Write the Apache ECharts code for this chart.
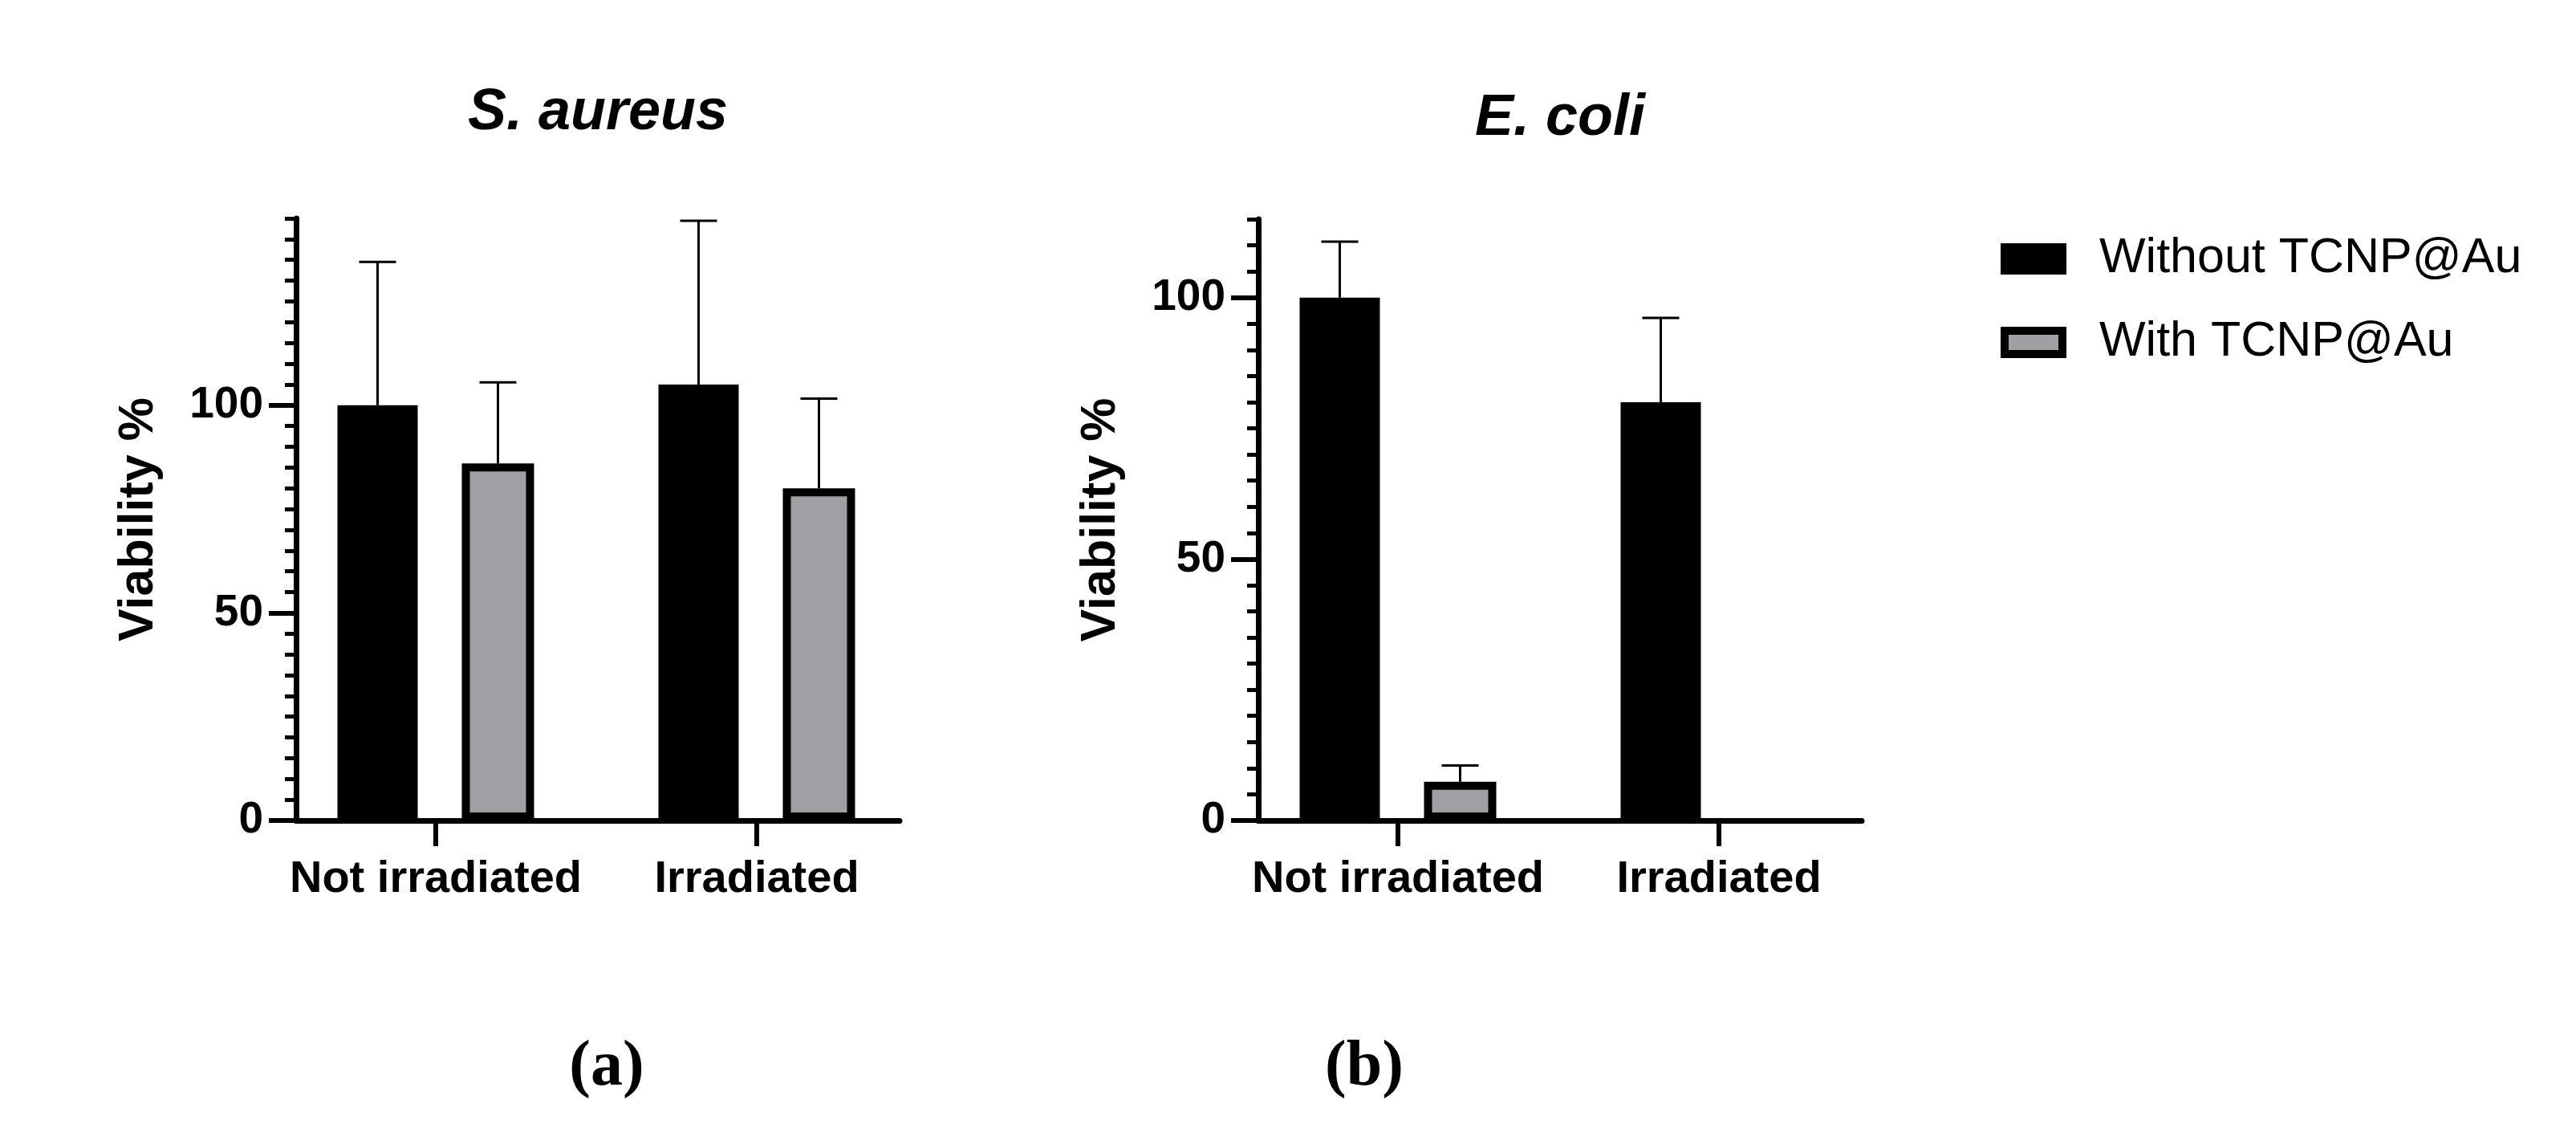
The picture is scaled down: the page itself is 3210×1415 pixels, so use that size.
<!DOCTYPE html>
<html>
<head>
<meta charset="utf-8">
<script src="https://cdn.jsdelivr.net/npm/echarts@6/dist/echarts.min.js"></script>
<style>
  html, body { margin: 0; padding: 0; background: #fff; }
  #chart { width: 3210px; height: 1415px; }
</style>
</head>
<body>
<div id="chart"></div>
<script>
// ---------- data ----------
const categories = ['Not irradiated', 'Irradiated'];
const seriesNames = ['Without TCNP@Au', 'With TCNP@Au'];

const saureusWithout   = [100, 105];
const saureusWithoutSD = [34.5, 39.4];
const saureusWith      = [86, 80];
const saureusWithSD    = [19.5, 21.6];

const ecoliWithout   = [100, 80];
const ecoliWithoutSD = [10.7, 16.1];
const ecoliWith      = [7.4, 0];
const ecoliWithSD    = [3.1, 0];

const saureusMax = 145;
const ecoliMax = 115;
const yTickStep = 5;
const yMajorTicks = [0, 50, 100];

const panelTitles = ['S. aureus', 'E. coli'];
const panelLetters = ['(a)', '(b)'];
const yAxisTitle = 'Viability %';

// ---------- styling constants ----------
const FONT = 'Liberation Sans, Arial, sans-serif';
const GRAY = '#a0a0a4';
const BLACK_W = 100, GRAY_W = 90, GAP = 0.55, BORDER = 10;
const widthSum = BLACK_W * (1 + GAP) + GRAY_W;
const blackOffset = -widthSum / 2 + BLACK_W / 2;
const grayOffset = -widthSum / 2 + BLACK_W * (1 + GAP) + GRAY_W / 2;
const CAP_HALF = 23;

function errData(vals, sds) {
  return vals.map((v, i) => [i, v, sds[i]]);
}
function errRenderer(offset) {
  return function (params, api) {
    const ci = api.value(0), v = api.value(1), e = api.value(2);
    if (!e) return null;
    const base = api.coord([ci, v]);
    const top = api.coord([ci, v + e]);
    const x = base[0] + offset;
    const st = { stroke: '#000', lineWidth: 3 };
    return {
      type: 'group',
      children: [
        { type: 'line', shape: { x1: x, y1: base[1], x2: x, y2: top[1] }, style: st },
        { type: 'line', shape: { x1: x - CAP_HALF, y1: top[1], x2: x + CAP_HALF, y2: top[1] }, style: st }
      ]
    };
  };
}
function grayData(vals) {
  return vals.map(v => v === 0 ? { value: v, itemStyle: { borderWidth: 0 } } : v);
}

// panel geometry
const panels = [
  { axisLeft: 369, barLeft: 343, top: 272, height: 750, max: saureusMax,
    without: saureusWithout, withoutSD: saureusWithoutSD, withv: saureusWith, withSD: saureusWithSD },
  { axisLeft: 1568, barLeft: 1542, top: 273, height: 749, max: ecoliMax,
    without: ecoliWithout, withoutSD: ecoliWithoutSD, withv: ecoliWith, withSD: ecoliWithSD }
];

const grid = [], xAxis = [], yAxis = [], series = [];
panels.forEach((p, k) => {
  const gP = grid.length;
  grid.push({ left: p.axisLeft, top: p.top, width: 752, height: p.height });
  const gB = grid.length;
  grid.push({ left: p.barLeft, top: p.top, width: 800, height: p.height });

  // visible x axis line
  xAxis.push({
    type: 'category', gridIndex: gP, data: categories, position: 'bottom',
    axisLine: { show: true, lineStyle: { color: '#000', width: 7 } },
    axisTick: { show: false }, axisLabel: { show: false }, splitLine: { show: false }
  });
  // bar x axis (ticks + labels)
  const xB = xAxis.length;
  xAxis.push({
    type: 'category', gridIndex: gB, data: categories, position: 'bottom',
    axisLine: { show: false },
    axisTick: { show: true, alignWithLabel: true, length: 32, lineStyle: { color: '#000', width: 6 } },
    axisLabel: { show: true, interval: 0, margin: 46, fontFamily: FONT, fontWeight: 'bold', fontSize: 56, lineHeight: 56, color: '#000' },
    splitLine: { show: false }
  });

  // minor ticks + labels + name
  yAxis.push({
    type: 'value', gridIndex: gP, position: 'left', min: 0, max: p.max, interval: yTickStep,
    axisLine: { show: true, lineStyle: { color: '#000', width: 7 } },
    axisTick: { show: true, length: 14, lineStyle: { color: '#000', width: 5 } },
    axisLabel: { show: true, customValues: yMajorTicks, margin: 41, fontFamily: FONT, fontWeight: 'bold', fontSize: 55, color: '#000' },
    splitLine: { show: false },
    name: yAxisTitle, nameLocation: 'middle', nameRotate: 90, nameGap: 165,
    nameTextStyle: { fontFamily: FONT, fontWeight: 'bold', fontSize: 61, lineHeight: 61, color: '#000' }
  });
  // major ticks
  yAxis.push({
    type: 'value', gridIndex: gP, position: 'left', offset: 0, min: 0, max: p.max, interval: yTickStep,
    axisLine: { show: false },
    axisTick: { show: true, customValues: yMajorTicks, length: 34, lineStyle: { color: '#000', width: 6 } },
    axisLabel: { show: false }, splitLine: { show: false }
  });
  // bar y axis (hidden)
  const yB = yAxis.length;
  yAxis.push({ type: 'value', gridIndex: gB, position: 'left', min: 0, max: p.max, show: false, splitLine: { show: false } });

  series.push({
    name: seriesNames[0], type: 'bar', xAxisIndex: xB, yAxisIndex: yB,
    data: p.without, barWidth: BLACK_W, barGap: (GAP * 100) + '%',
    itemStyle: { color: '#000', borderWidth: 0 }
  });
  series.push({
    name: seriesNames[1], type: 'bar', xAxisIndex: xB, yAxisIndex: yB,
    data: grayData(p.withv), barWidth: GRAY_W, barGap: (GAP * 100) + '%',
    itemStyle: { color: GRAY, borderColor: '#000', borderWidth: BORDER }
  });
  series.push({
    type: 'custom', xAxisIndex: xB, yAxisIndex: yB, z: 5,
    data: errData(p.without, p.withoutSD), renderItem: errRenderer(blackOffset),
    encode: { x: 0, y: 1 }, silent: true
  });
  series.push({
    type: 'custom', xAxisIndex: xB, yAxisIndex: yB, z: 5,
    data: errData(p.withv, p.withSD), renderItem: errRenderer(grayOffset),
    encode: { x: 0, y: 1 }, silent: true
  });
});

const titleStyle = { fontFamily: FONT, fontWeight: 'bold', fontStyle: 'italic', fontSize: 72, lineHeight: 72, color: '#000' };
const letterStyle = { fontFamily: 'Liberation Serif, serif', fontWeight: 'bold', fontSize: 80, lineHeight: 80, color: '#000' };

const option = {
  animation: false,
  backgroundColor: '#fff',
  title: [
    { text: panelTitles[0], left: 745, top: 105, textAlign: 'center', padding: 0, textStyle: titleStyle },
    { text: panelTitles[1], left: 1944, top: 112, textAlign: 'center', padding: 0, textStyle: titleStyle },
    { text: panelLetters[0], left: 756, top: 1290, textAlign: 'center', padding: 0, textStyle: letterStyle },
    { text: panelLetters[1], left: 1700, top: 1290, textAlign: 'center', padding: 0, textStyle: letterStyle }
  ],
  legend: {
    orient: 'vertical', left: 2493, top: 292, itemGap: 43, padding: 0,
    itemWidth: 72, itemHeight: 29, icon: 'rect',
    data: [
      { name: seriesNames[0], itemStyle: { color: '#000', borderColor: '#000', borderWidth: BORDER } },
      { name: seriesNames[1], itemStyle: { color: GRAY, borderColor: '#000', borderWidth: BORDER } }
    ],
    textStyle: { fontFamily: FONT, fontSize: 61, lineHeight: 60, color: '#000', padding: [0, 0, 0, 41] },
    selectedMode: false
  },
  grid, xAxis, yAxis, series
};

const chart = echarts.init(document.getElementById('chart'), null, { renderer: 'canvas' });
chart.setOption(option);
</script>
</body>
</html>
